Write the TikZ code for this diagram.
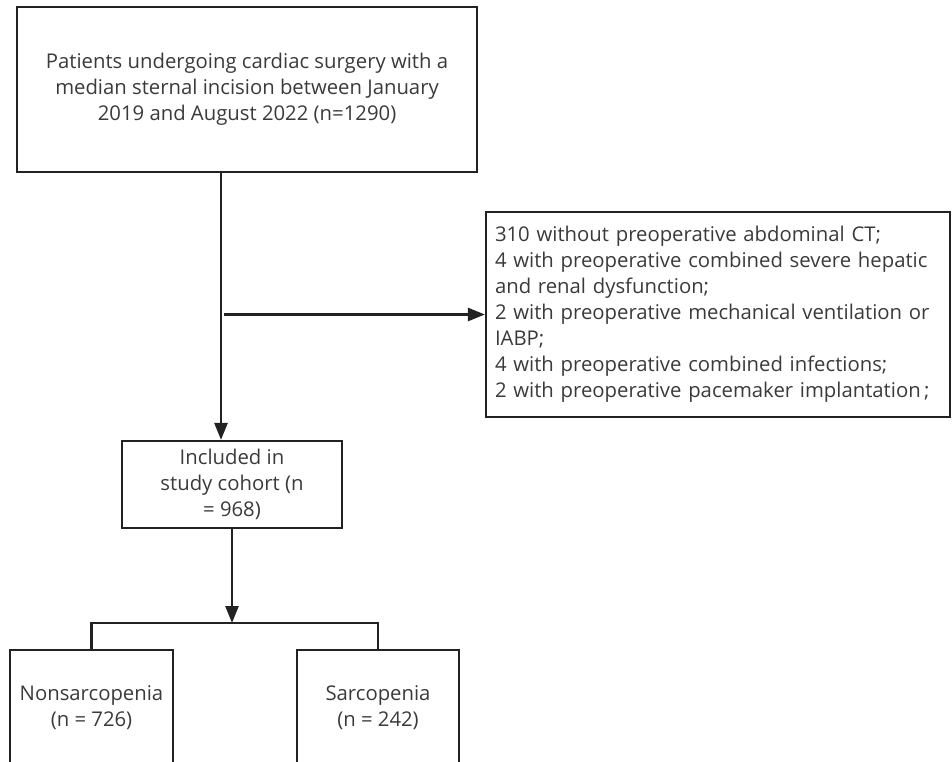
\documentclass[tikz,border=0pt]{standalone}
\usepackage{fontspec}
\setmainfont{Open Sans}
\usetikzlibrary{arrows.meta,positioning}
\definecolor{txtgray}{HTML}{3A3A3A}
\definecolor{linegray}{HTML}{222222}

\begin{document}
\begin{tikzpicture}[x=1pt,y=-1pt,
    box/.style={draw=linegray,line width=2.2pt,text=txtgray,align=center,inner sep=0pt,
      font=\fontsize{20.3}{26}\selectfont},
    conn/.style={draw=linegray,line width=2.6pt},
    arr/.style={conn,-{Triangle[length=17pt,width=13pt]}}]
        % Blatt 952 x 761, y nach unten
        \clip (0,0) rectangle (952,761);

        % Kästen
        \node[box,minimum width=460pt,minimum height=165pt] (pat) at (247,89.5)
            {Patients undergoing cardiac surgery with a\\median sternal incision between January\\2019 and August 2022 (n=1290)};
        \node[box,align=left,text width=446pt,inner xsep=9pt,minimum height=205pt] (excl) at (718,314.5)
            {310 without preoperative abdominal CT;\\
             4 with preoperative combined severe hepatic\\
             and renal dysfunction;\\
             2 with preoperative mechanical ventilation or\\
             IABP;\\
             4 with preoperative combined infections;\\
             2 with preoperative pacemaker implantation\,;};
        \node[box,minimum width=220pt,minimum height=87pt] (incl) at (232,484.5)
            {Included in\\study cohort (n\\= 968)};
        \node[box,anchor=north,minimum width=163pt,minimum height=116pt] (nonsar) at (91.5,649)
            {Nonsarcopenia\\(n = 726)};
        \node[box,anchor=north,minimum width=162pt,minimum height=116pt] (sar) at (378,649)
            {Sarcopenia\\(n = 242)};

        % Abzweig und Gabel
        \coordinate (split) at (221,314.5);
        \coordinate (fork) at (232,623);

        \draw[arr] (pat.south -| split) -- (incl.north -| split);
        \draw[arr] ([xshift=3pt]split) -- (excl.west);
        \draw[arr] (incl.south) -- (fork);
        \draw[conn] (nonsar.north) |- (fork) -| (sar.north);

    \end{tikzpicture}
\end{document}
